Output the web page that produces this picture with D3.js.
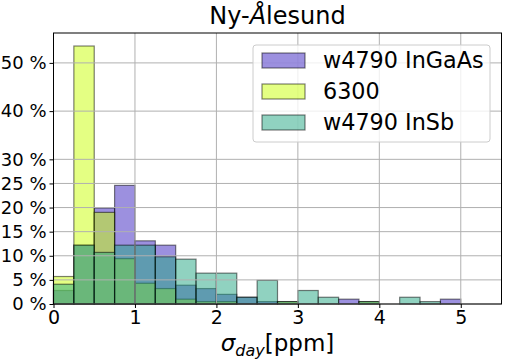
<!DOCTYPE html>
<html>
<head>
<meta charset="utf-8">
<script src="https://cdn.jsdelivr.net/npm/d3@7"></script>
<style>
  body { margin: 0; background: #fff; }
  text { font-family: "DejaVu Sans", sans-serif; fill: #000; }
</style>
</head>
<body>
<div id="chart"></div>
<script>
// bin edges of the histogram (ppm)
var binEdges = [0, 0.25, 0.5, 0.75, 1, 1.25, 1.5, 1.75, 2, 2.25, 2.5, 2.75, 3, 3.25, 3.5, 3.75, 4, 4.25, 4.5, 4.75, 5];

// share of days per bin (%)
var ingaas = [2.8, 12.2, 19.9, 24.6, 13.1, 12.2, 3.9, 3.2, 2.0, 1.4, 0.5, 0, 0, 0, 1.0, 0, 0, 0, 0, 1.0];
var s6300  = [5.7, 53.5, 19.0, 9.4, 4.3, 3.2, 1.0, 0.5, 0.5, 0, 0, 0.5, 0, 0, 0, 0.5, 0, 0, 0, 0];
var insb   = [4.1, 12.2, 10.7, 12.2, 12.2, 9.8, 9.3, 6.4, 6.4, 1.4, 4.9, 0.5, 2.8, 1.4, 0, 0.5, 0, 1.4, 0.5, 0];

var seriesNames = ["w4790 InGaAs", "6300", "w4790 InSb"];
var seriesColors = ["#3a22c0", "#caff08", "#22a582"];

var xTicks = [0, 1, 2, 3, 4, 5];
var yTicks = [0, 5, 10, 15, 20, 25, 30, 40, 50];

var width = 507, height = 362;
var margin = { top: 33, right: 5.5, bottom: 58, left: 53.5 };
var alpha = 0.5;

var svg = d3.select("#chart")
  .append("svg")
  .attr("width", width)
  .attr("height", height);

var x = d3.scaleLinear()
  .domain([0, 5.5])
  .range([margin.left, width - margin.right]);

var y = d3.scaleLinear()
  .domain([0, 56.2])
  .range([height - margin.bottom, margin.top]);

// bars, one series after the other so overlaps blend
var allSeries = [ingaas, s6300, insb];
allSeries.forEach(function (vals, si) {
  var rows = vals.map(function (v, i) { return { x0: binEdges[i], x1: binEdges[i + 1], v: v }; })
    .filter(function (d) { return d.v > 0; });
  svg.append("g")
    .selectAll("rect")
    .data(rows)
    .enter()
    .append("rect")
    .attr("x", function (d) { return x(d.x0); })
    .attr("y", function (d) { return y(d.v); })
    .attr("width", function (d) { return x(d.x1) - x(d.x0); })
    .attr("height", function (d) { return y(0) - y(d.v); })
    .attr("fill", seriesColors[si])
    .attr("fill-opacity", alpha)
    .attr("stroke", "#000")
    .attr("stroke-opacity", alpha)
    .attr("stroke-width", 1.2);
});

// grid sits above the bars like in matplotlib
var grid = svg.append("g").attr("stroke", "#b0b0b0").attr("stroke-width", 1);
grid.selectAll(".gx").data(xTicks).enter().append("line")
  .attr("x1", function (d) { return x(d); })
  .attr("x2", function (d) { return x(d); })
  .attr("y1", y(0)).attr("y2", margin.top);
grid.selectAll(".gy").data(yTicks).enter().append("line")
  .attr("x1", margin.left).attr("x2", width - margin.right)
  .attr("y1", function (d) { return y(d); })
  .attr("y2", function (d) { return y(d); });

// axes
var xAxis = svg.append("g")
  .attr("transform", "translate(0," + y(0) + ")")
  .call(d3.axisBottom(x).tickValues(xTicks).tickSize(4).tickPadding(3).tickFormat(d3.format("d")));
xAxis.selectAll("text").style("font-size", "19px");

var yAxis = svg.append("g")
  .attr("transform", "translate(" + margin.left + ",0)")
  .call(d3.axisLeft(y).tickValues(yTicks).tickSize(4).tickPadding(3).tickFormat(function (d) { return d + " %"; }));
yAxis.selectAll("text").style("font-size", "18px");

[xAxis, yAxis].forEach(function (a) {
  a.select(".domain").remove();
  a.selectAll(".tick line").attr("stroke", "#000").attr("stroke-width", 1);
});

// frame
svg.append("rect")
  .attr("x", margin.left).attr("y", margin.top)
  .attr("width", width - margin.right - margin.left)
  .attr("height", y(0) - margin.top)
  .attr("fill", "none").attr("stroke", "#000").attr("stroke-width", 1);

// title
var title = svg.append("text")
  .attr("x", (margin.left + width - margin.right) / 2)
  .attr("y", 24)
  .attr("text-anchor", "middle")
  .style("font-size", "24px");
title.append("tspan").text("Ny-");
title.append("tspan").style("font-style", "italic").text("Å");
title.append("tspan").text("lesund");

// x label
var xl = svg.append("text")
  .attr("x", (margin.left + width - margin.right) / 2)
  .attr("y", 351)
  .attr("text-anchor", "middle")
  .style("font-size", "23px");
xl.append("tspan").style("font-style", "italic").text("σ");
xl.append("tspan").style("font-style", "italic").style("font-size", "16px").attr("dy", 5).text("day");
xl.append("tspan").attr("dy", -5).text("[ppm]");

// legend
var legend = svg.append("g").attr("transform", "translate(253,45)");
legend.append("rect")
  .attr("width", 237).attr("height", 97)
  .attr("rx", 3)
  .attr("fill", "#fff").attr("fill-opacity", 0.8)
  .attr("stroke", "#cccccc");
seriesNames.forEach(function (name, i) {
  var row = legend.append("g").attr("transform", "translate(9," + (8 + i * 31) + ")");
  row.append("rect")
    .attr("width", 43).attr("height", 15)
    .attr("fill", seriesColors[i]).attr("fill-opacity", alpha)
    .attr("stroke", "#000").attr("stroke-opacity", alpha).attr("stroke-width", 1.2);
  row.append("text")
    .attr("x", 61).attr("y", 7.5).attr("dy", "0.35em")
    .style("font-size", "22.3px")
    .text(name);
});
</script>
</body>
</html>
